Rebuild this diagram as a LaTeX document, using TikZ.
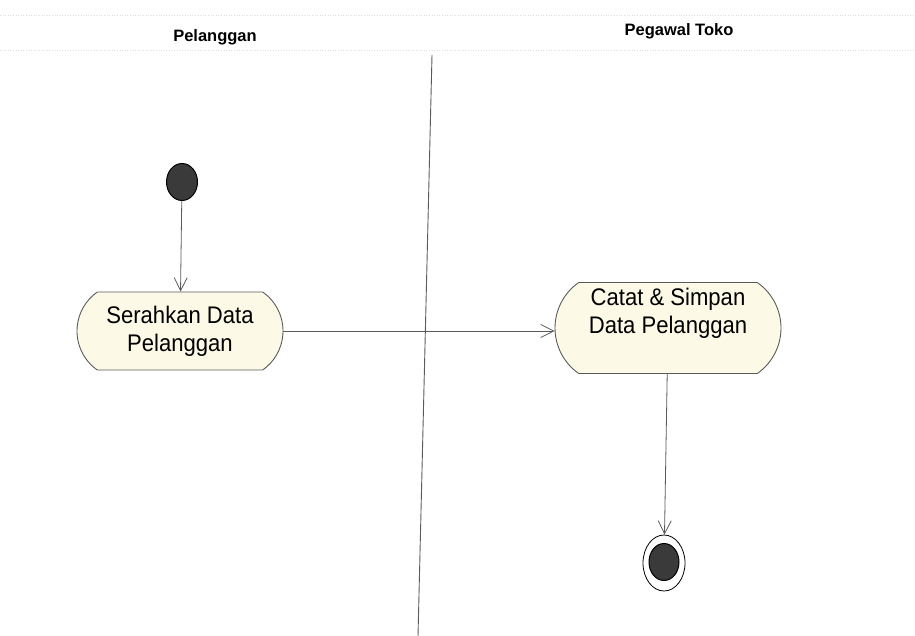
\documentclass[tikz,border=0pt]{standalone}
\usepackage{fontspec}
\setmainfont{Liberation Sans}
\newfontfamily\actfont[FakeStretch=0.92]{Liberation Sans}
\usetikzlibrary{shapes.geometric,shapes.misc,arrows.meta}
\definecolor{actfill}{HTML}{FCFAE6}
\definecolor{lineg}{HTML}{5A5A5A}
\definecolor{dotfill}{HTML}{3A3A3A}
\tikzset{
  activity/.style={rounded rectangle, rounded rectangle arc length=110, draw=lineg, line width=0.9pt, fill=actfill,
    align=center, font=\actfont\fontsize{24}{28}\selectfont, inner sep=0pt},
  lanetitle/.style={font=\bfseries\fontsize{16.5}{19}\selectfont, inner sep=0pt},
  flow/.style={draw=lineg, line width=0.8pt, -{Straight Barb[length=13pt,width=13pt,line width=0.8pt]}},
  startdot/.style={ellipse, draw=black, line width=1pt, fill=dotfill, minimum width=31pt, minimum height=37pt, inner sep=0pt},
  endring/.style={ellipse, draw=black, line width=0.8pt, fill=white, minimum width=42pt, minimum height=56pt, inner sep=0pt},
  divider/.style={draw=lineg, line width=0.9pt},
  headline/.style={draw=gray!25, line width=0.6pt, dotted}
}
\begin{document}
\begin{tikzpicture}[x=1pt,y=-1pt]
\useasboundingbox (0,0) rectangle (915,636);
% header lane lines (faint)
\coordinate (hl1) at (0,15);
\coordinate (hr1) at (915,15);
\coordinate (hl2) at (0,50);
\coordinate (hr2) at (915,50);
\draw[headline] (hl1) -- (hr1);
\draw[headline] (hl2) -- (hr2);
% lane titles
\node[lanetitle] (lane1) at (215,37) {Pelanggan};
\node[lanetitle] (lane2) at (679,31) {Pegawal Toko};
% divider
\coordinate (divtop) at (432,55);
\coordinate (divbot) at (418,636);
\draw[divider] (divtop) -- (divbot);
% nodes
\node[startdot] (init) at (182,182) {};
\node[activity, minimum width=206pt, minimum height=78pt] (serahkan) at (180,331) {Serahkan Data\\Pelanggan};
\node[activity, minimum width=226pt, minimum height=91pt] (catat) at (668,328) {Catat \& Simpan\\Data Pelanggan\\[6pt]};
\node[endring] (final) at (664,563) {};
\node[startdot, minimum width=30pt, minimum height=37pt] (finalin) at (664,562) {};
% flows
\draw[flow] (init) -- (serahkan);
\draw[flow] (serahkan.east) -- (serahkan.east -| catat.west);
\draw[flow] (catat) -- (final);
\end{tikzpicture}
\end{document}
